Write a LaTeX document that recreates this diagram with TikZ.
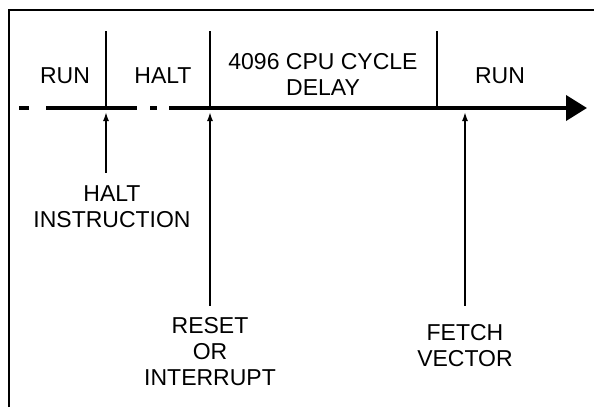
\documentclass[tikz,border=0pt]{standalone}
\usepackage{fontspec}
\setmainfont{Liberation Sans}
\usetikzlibrary{arrows.meta,positioning}

\begin{document}
\begin{tikzpicture}[x=1pt,y=-1pt,
  lbl/.style={font=\fontsize{23}{26}\selectfont,align=center,inner sep=0pt},
  tick/.style={line width=1.6pt},
  pointer/.style={line width=1.6pt,shorten >=4pt,-{Latex[length=9pt,width=6pt]}},
  axis/.style={line width=4pt}]
  \useasboundingbox (0,0) rectangle (594,407);
  % frame
  \draw[line width=1.8pt] (9,407) -- (9,10) -- (594,10);
  % time line
  \coordinate (tHalt) at (106,108);
  \coordinate (tReset) at (210,108);
  \coordinate (tRun) at (437,108);
  \coordinate (tFetch) at (465,108);
  \draw[axis] (19,108) -- (29,108);
  \draw[axis] (46,108) -- (137,108);
  \draw[axis] (150,108) -- (157,108);
  \draw[axis,-{Triangle[length=21pt,width=25pt]}] (169,108) -- (587,108);
  % phase boundaries
  \draw[tick] (tHalt) -- ++(0,-77);
  \draw[tick] (tReset) -- ++(0,-77);
  \draw[tick] (tRun) -- ++(0,-77);
  % phases
  \node[lbl] (run1) at (65,76) {RUN};
  \node[lbl] (halt) at (163,76) {HALT};
  \node[lbl] (delay) at (323,74) {4096 CPU CYCLE\\DELAY};
  \node[lbl] (run2) at (500,76) {RUN};
  % events
  \node[lbl] (haltins) at (112,207) {HALT\\INSTRUCTION};
  \node[lbl] (reset) at (210,352) {RESET\\OR\\INTERRUPT};
  \node[lbl] (fetch) at (465,346) {FETCH\\VECTOR};
  \draw[pointer,shorten <=13pt] (tHalt |- haltins.north) -- (tHalt);
  \draw[pointer,shorten <=12pt] (tReset |- reset.north) -- (tReset);
  \draw[pointer,shorten <=19pt] (tFetch |- fetch.north) -- (tFetch);
\end{tikzpicture}
\end{document}
